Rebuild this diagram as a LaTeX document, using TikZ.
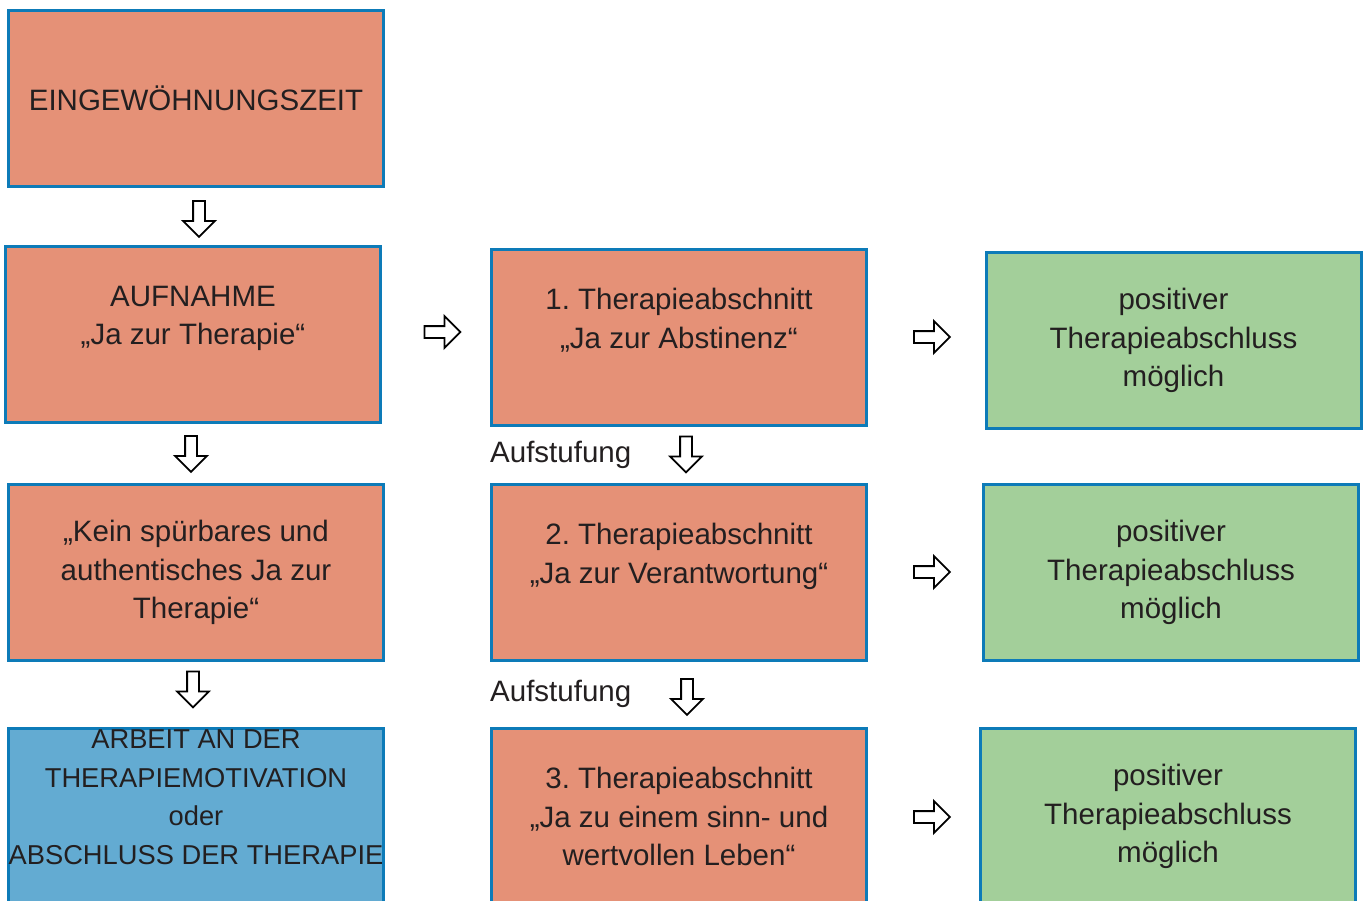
\documentclass[tikz,border=0pt]{standalone}
\usepackage{fontspec}
\setmainfont{Liberation Sans}
\usetikzlibrary{shapes.arrows}
\frenchspacing
\definecolor{salmon}{HTML}{E59177}
\definecolor{leaf}{HTML}{A3CF9A}
\definecolor{sky}{HTML}{63ABD2}
\definecolor{rim}{HTML}{0D7BB8}
\definecolor{ink}{HTML}{231F20}
\tikzset{
  box/.style={draw=rim, line width=3pt, minimum width=375pt, minimum height=176pt,
    align=center, text=ink, inner sep=0pt,
    font=\fontsize{29.5}{38.5}\selectfont\frenchspacing},
  redbox/.style={box, fill=salmon},
  greenbox/.style={box, fill=leaf},
  bluebox/.style={box, fill=sky, font=\fontsize{27.3}{38.5}\selectfont},
  hollow/.style={single arrow, draw=black, fill=white, line width=1.8pt,
    inner xsep=0pt, inner ysep=5pt, minimum height=36pt,
    single arrow head extend=10pt, anchor=center},
  downarrow/.style={hollow, rotate=-90},
  rightarrow/.style={hollow},
  lbl/.style={text=ink, inner sep=0pt, anchor=base west,
    font=\fontsize{29.5}{38.5}\selectfont}
}
\begin{document}
\begin{tikzpicture}[x=1pt,y=1pt]
\useasboundingbox (0,0) rectangle (1366,-900);
% left column
\node[redbox] (ein) at (196,-98.5) {EINGEWÖHNUNGSZEIT};
\node[redbox] (auf) at (193,-334.5) {AUFNAHME\\„Ja zur Therapie“\\\mbox{}};
\node[redbox] (kein) at (196,-572.5) {„Kein spürbares und\\authentisches Ja zur\\Therapie“};
\node[bluebox] (arb) at (196,-816.5) {ARBEIT AN DER\\THERAPIEMOTIVATION\\oder\\ABSCHLUSS DER THERAPIE\\\mbox{}};
% middle column
\node[redbox] (t1) at (679,-337.5) {1. Therapieabschnitt\\„Ja zur Abstinenz“\\\mbox{}};
\node[redbox] (t2) at (679,-572.5) {2. Therapieabschnitt\\„Ja zur Verantwortung“\\\mbox{}};
\node[redbox] (t3) at (679,-816.5) {3. Therapieabschnitt\\„Ja zu einem sinn- und\\wertvollen Leben“};
% right column
\node[greenbox] (g1) at (1173.5,-340.5) {positiver\\Therapieabschluss\\möglich};
\node[greenbox] (g2) at (1171,-572.5) {positiver\\Therapieabschluss\\möglich};
\node[greenbox] (g3) at (1168,-816.5) {positiver\\Therapieabschluss\\möglich};
% arrows
\node[downarrow] (d1) at (199,-216) {};
\node[downarrow] (d2) at (191,-451) {};
\node[downarrow] (d3) at (193,-686.5) {};
\node[downarrow] (d4) at (686,-451.5) {};
\node[downarrow] (d5) at (687,-694) {};
\node[rightarrow] (r1) at (439.5,-332) {};
\node[rightarrow] (r2) at (929,-337) {};
\node[rightarrow] (r3) at (929,-572) {};
\node[rightarrow] (r4) at (929,-817) {};
% labels
\node[lbl] (auf1) at (490,-462) {Aufstufung};
\node[lbl] (auf2) at (490,-701) {Aufstufung};
\end{tikzpicture}
\end{document}
